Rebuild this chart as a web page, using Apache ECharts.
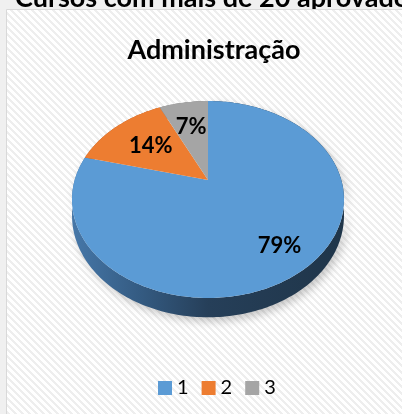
<!DOCTYPE html>
<html>
<head>
<meta charset="utf-8">
<script src="https://cdn.jsdelivr.net/npm/echarts@6/dist/echarts.min.js"></script>
<style>
html, body { margin: 0; padding: 0; background: #f0f0f0; }
#grafico { width: 402px; height: 414px; }
</style>
</head>
<body>
<div id="grafico"></div>
<script>
// dados
var categorias = ['1', '2', '3'];
var valores = [79, 14, 7];
var rotulos = ['79%', '14%', '7%'];
var cores = ['#5b9bd5', '#ed7d31', '#a5a5a5'];
var titulo = 'Administração';
var tituloPagina = 'Cursos com mais de 20 aprovados';

var myChart = echarts.init(document.getElementById('grafico'));

// geometria da pizza 3D (perspectiva tipo Excel)
var cx = 208, cy = 180, R = 133.3, K = 94.6, D = 5.05, altura = 15.5;
var raioRotulo = [0.77, 0.6, 0.65];

var total = valores.reduce(function (a, b) { return a + b; }, 0);
var acumulado = [0];
valores.forEach(function (v, i) { acumulado.push(acumulado[i] + v); });

function ponto(ang, f, prof) {
    var u = f * Math.sin(ang), v = -f * Math.cos(ang);
    var s = D / (D - v);
    return [cx + R * u * s, cy + (K * v + prof) * s];
}

function arco(a0, a1, prof) {
    var pts = [], n = Math.max(2, Math.ceil((a1 - a0) / 0.02));
    for (var k = 0; k <= n; k++) {
        pts.push(ponto(a0 + (a1 - a0) * k / n, 1, prof));
    }
    return pts;
}

var laterais = [
    { type: 'linear', x: 72, y: 0, x2: 344, y2: 0, global: true,
      colorStops: [{ offset: 0, color: '#4677a8' }, { offset: 0.25, color: '#345b82' },
                   { offset: 0.5, color: '#263f59' }, { offset: 1, color: '#1f3549' }] },
    '#b0592a',
    '#7a7a7a'
];

function desenhaFatia(params, api) {
    var i = params.seriesIndex;
    var a0 = acumulado[i] / total * 2 * Math.PI;
    var a1 = acumulado[i + 1] / total * 2 * Math.PI;
    var topo = arco(a0, a1, 0);
    var base = arco(a0, a1, altura).reverse();
    var pr = ponto((a0 + a1) / 2, raioRotulo[i], 0);
    return {
        type: 'group',
        children: [
            {
                type: 'polygon', z2: 1,
                shape: { points: topo.concat(base) },
                style: i === 0 ? { fill: laterais[i], shadowBlur: 8, shadowColor: 'rgba(0,0,0,0.22)', shadowOffsetX: 3, shadowOffsetY: 4 }
                               : { fill: laterais[i] }
            },
            {
                type: 'polygon', z2: 10,
                shape: { points: [ponto(0, 0, 0)].concat(topo) },
                style: { fill: cores[i] }
            },
            {
                type: 'text', z2: 20, x: pr[0], y: pr[1],
                style: { text: rotulos[i], fill: '#000', font: 'bold 22px Lato', align: 'center', verticalAlign: 'middle' }
            }
        ]
    };
}

// fundo listrado
var padrao = document.createElement('canvas');
padrao.width = 7; padrao.height = 7;
var ctx = padrao.getContext('2d');
ctx.fillStyle = '#ffffff';
ctx.fillRect(0, 0, 7, 7);
ctx.fillStyle = '#eeeeee';
for (var y = 0; y < 7; y++) {
    for (var x = 0; x < 7; x++) {
        if ((x - y + 14) % 7 < 3) ctx.fillRect(x, y, 1, 1);
    }
}

option = {
    backgroundColor: '#f0f0f0',
    title: {
        text: titulo,
        left: 209,
        top: 32,
        textAlign: 'center',
        textStyle: { fontFamily: 'Lato', fontWeight: 'bold', fontSize: 27, color: '#000' }
    },
    legend: {
        data: categorias,
        left: 153,
        top: 373,
        icon: 'rect',
        itemWidth: 14,
        itemHeight: 14,
        itemGap: 13,
        textStyle: { fontFamily: 'Lato', fontSize: 20, color: '#000' }
    },
    graphic: [
        {
            type: 'text', z: -11, x: 15, y: 12,
            style: { text: tituloPagina, fill: '#000', font: 'bold 27px Lato', verticalAlign: 'bottom' }
        },
        {
            type: 'rect', z: -10,
            shape: { x: 6.5, y: 9.5, width: 400, height: 410 },
            style: { fill: { image: padrao, repeat: 'repeat' }, stroke: '#d9d9d9', lineWidth: 1 }
        }
    ],
    series: categorias.map(function (nome, i) {
        return {
            type: 'custom',
            name: nome,
            coordinateSystem: 'none',
            silent: true,
            itemStyle: { color: cores[i] },
            renderItem: desenhaFatia,
            data: [valores[i]]
        };
    })
};

myChart.setOption(option);
</script>
</body>
</html>
